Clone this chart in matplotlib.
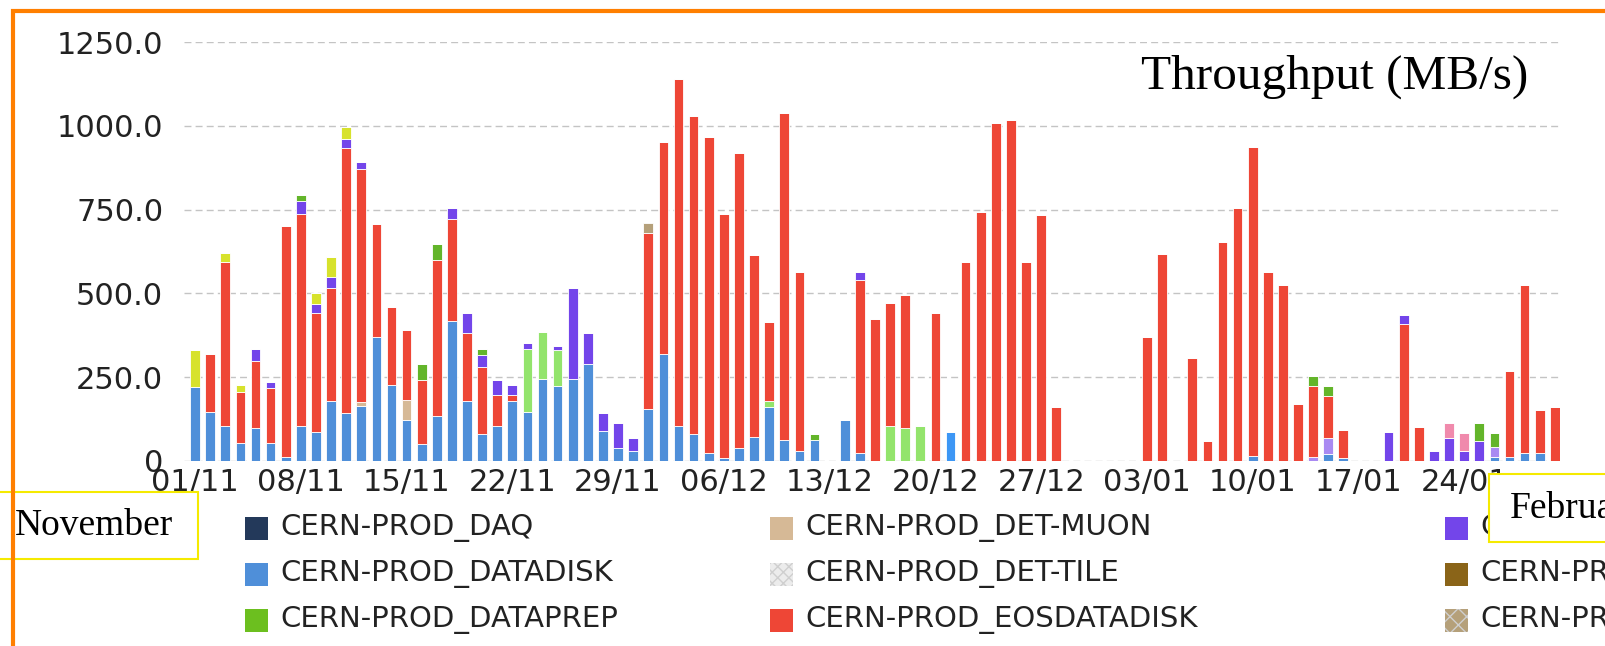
import numpy as np
import matplotlib
matplotlib.use("Agg")
import matplotlib.pyplot as plt
from matplotlib.patches import Rectangle

W, H = 1605, 646

# one bar per day, day 0 = 01/11
days = np.arange(91)
tick_days = [0, 7, 14, 21, 28, 35, 42, 49, 56, 63, 70, 77, 84]
tick_labels = ['01/11', '08/11', '15/11', '22/11', '29/11', '06/12', '13/12',
               '20/12', '27/12', '03/01', '10/01', '17/01', '24/01']
y_ticks = [0, 250, 500, 750, 1000, 1250]
y_tick_labels = ['0', '250.0', '500.0', '750.0', '1000.0', '1250.0']

datadisk = [220, 145, 105, 55, 97, 55, 13, 105, 87, 180,
            143, 163, 370, 228, 123, 52, 135, 417, 180, 80,
            105, 180, 145, 245, 225, 245, 288, 89, 40, 30,
            154, 318, 104, 80, 25, 10, 40, 72, 162, 62,
            30, 62, 0, 122, 25, 0, 0, 0, 0, 0,
            0, 0, 0, 0, 0, 0, 0, 0, 0, 0,
            0, 0, 0, 0, 0, 0, 0, 0, 0, 0,
            15, 0, 0, 0, 0, 21, 8, 0, 0, 0,
            0, 0, 0, 0, 0, 0, 12, 12, 25, 25,
            0]
eosdatadisk = [0, 175, 490, 150, 200, 163, 687, 632, 356, 335,
               792, 695, 338, 232, 207, 191, 465, 305, 202, 200,
               93, 18, 0, 0, 0, 0, 0, 0, 0, 0,
               526, 635, 1036, 950, 943, 727, 878, 544, 236, 976,
               533, 0, 0, 0, 516, 424, 368, 397, 0, 442,
               0, 595, 744, 1008, 1017, 595, 735, 162, 0, 0,
               0, 0, 0, 370, 618, 0, 308, 60, 653, 755,
               923, 563, 524, 169, 212, 125, 85, 0, 0, 0,
               408, 101, 0, 0, 0, 0, 0, 256, 499, 127,
               160]
# smaller endpoints: {day: MB/s}
tzero = {50: 86}
phys_light = {22: 190, 23: 140, 24: 105, 38: 17, 46: 104, 47: 99, 48: 104}
perf_light = {74: 12, 75: 48, 86: 31}
det_muon = {11: 12, 14: 60}
localgroup = {4: 37, 5: 17, 7: 38, 8: 25, 9: 33, 10: 25, 11: 23, 17: 33,
              18: 60, 19: 37, 20: 45, 21: 30, 22: 17, 24: 13, 25: 272,
              26: 94, 27: 55, 28: 74, 29: 40, 44: 23, 79: 86, 80: 29,
              82: 30, 83: 69, 84: 30, 85: 60}
dataprep = {7: 20, 15: 47, 16: 47, 19: 18, 41: 18, 74: 29, 75: 30,
            85: 53, 86: 41}
scratch = {0: 110, 2: 25, 3: 23, 8: 32, 9: 62, 10: 35}
phys_pink = {83: 44, 84: 55}
perf_tan = {30: 30}


def full(d):
    out = np.zeros(len(days))
    for k, v in d.items():
        out[k] = v
    return out


# stacking order, bottom to top
stack = [
    (np.array(datadisk, float), '#4f8fd9'),
    (full(tzero), '#3d97f5'),
    (full(phys_light), '#93e46c'),
    (full(perf_light), '#a98af2'),
    (full(det_muon), '#d6b996'),
    (np.array(eosdatadisk, float), '#ee4636'),
    (full(localgroup), '#7345ea'),
    (full(dataprep), '#63b52a'),
    (full(scratch), '#d7e22c'),
    (full(phys_pink), '#f08aac'),
    (full(perf_tan), '#b5a07a'),
]

legend_items = [
    ('CERN-PROD_DAQ', '#23395a', None),
    ('CERN-PROD_DATADISK', '#4f8fd9', None),
    ('CERN-PROD_DATAPREP', '#6cbf1f', None),
    ('CERN-PROD_DET-MUON', '#d6b996', None),
    ('CERN-PROD_DET-TILE', '#ececec', 'xxx'),
    ('CERN-PROD_EOSDATADISK', '#ee4636', None),
    ('CERN-PROD_LOCALGROUPDISK', '#7345ea', None),
    ('CERN-PROD_PERF-EGAMMA', '#8a6418', None),
    ('CERN-PROD_PERF-FLAVTAG', '#b5a07a', 'xx'),
]

fig = plt.figure(figsize=(W / 100, H / 100), dpi=100)
ax = fig.add_axes([184 / W, 1 - 461 / H, (1560 - 184) / W, (461 - 42) / H])

bottom = np.zeros(len(days))
for vals, col in stack:
    ax.bar(days, vals, width=0.64, bottom=bottom, color=col,
           edgecolor='white', linewidth=0.6, zorder=3)
    bottom += vals

ax.set_xlim(-0.73, 90.34)
ax.set_ylim(0, 1250)
ax.set_yticks(y_ticks)
ax.set_yticklabels(y_tick_labels)
ax.set_xticks(tick_days)
ax.set_xticklabels(tick_labels)
ax.tick_params(length=0, labelsize=22, labelcolor='#222222')
ax.tick_params(axis='y', pad=15)
ax.tick_params(axis='x', pad=5)
for s in ax.spines.values():
    s.set_visible(False)
ax.grid(axis='y', color='#c4c4c4', linestyle=(0, (5, 3)), linewidth=1, zorder=0)
ax.set_axisbelow(True)


def fx(x):
    return x / W


def fy(y):
    return 1 - y / H


# legend, three visible columns (the rest runs off the slide)
col_x = [245, 770, 1445]
row_y = [528, 574, 620]
for i, (name, col, hatch) in enumerate(legend_items):
    c, r = i // 3, i % 3
    sq = Rectangle((fx(col_x[c]), fy(row_y[r] + 11.5)), 23 / W, 23 / H,
                   transform=fig.transFigure, facecolor=col,
                   edgecolor='#cfcfcf' if hatch else col, hatch=hatch,
                   linewidth=0, zorder=2)
    fig.add_artist(sq)
    fig.text(fx(col_x[c] + 35), fy(row_y[r]), name, fontsize=21,
             color='#222222', va='center', ha='left', zorder=2)

fig.text(fx(1141), fy(89), 'Throughput (MB/s)', family='Liberation Serif',
         fontsize=35.5, va='baseline', ha='left')

# month boxes
box1 = Rectangle((fx(-5), fy(559)), 203 / W, 67 / H, transform=fig.transFigure,
                 facecolor='white', edgecolor='#f5ea00', linewidth=1.5, zorder=5)
fig.add_artist(box1)
fig.text(fx(94), fy(526), 'November', family='Liberation Serif', fontsize=27,
         ha='center', va='center', zorder=6)
box2 = Rectangle((fx(1489), fy(542)), 200 / W, 68 / H, transform=fig.transFigure,
                 facecolor='white', edgecolor='#f5ea00', linewidth=1.5, zorder=5)
fig.add_artist(box2)
fig.text(fx(1510), fy(508), 'February', family='Liberation Serif', fontsize=27,
         ha='left', va='center', zorder=6)

# orange frame, cut off at right and bottom
frame = Rectangle((fx(13), -0.3), 2.0, fy(11.5) + 0.3, transform=fig.transFigure,
                  fill=False, edgecolor='#ff7f00', linewidth=3, zorder=7)
fig.add_artist(frame)

fig.savefig('out.png', dpi=100)
